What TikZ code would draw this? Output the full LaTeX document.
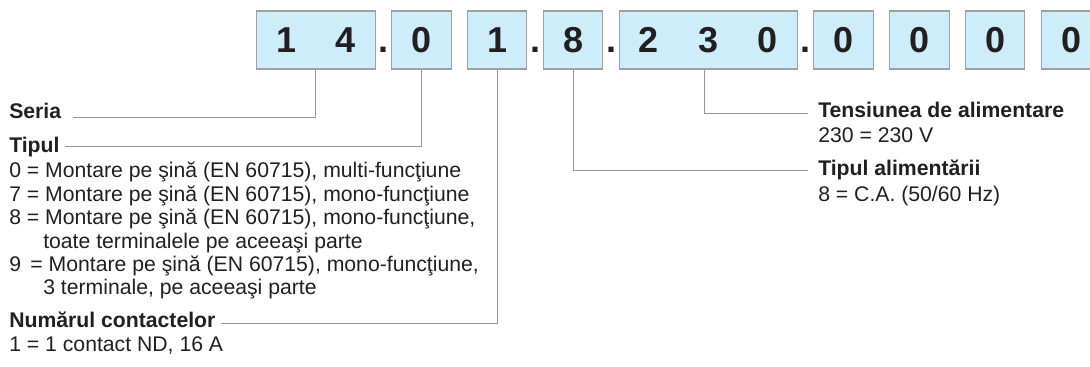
\documentclass[tikz,border=0pt]{standalone}
\usepackage{fontspec}
\setmainfont{Liberation Sans}
\usetikzlibrary{positioning, calc}
\definecolor{boxblue}{RGB}{205,237,250}
\definecolor{boxline}{RGB}{160,160,160}
\definecolor{ink}{RGB}{35,31,32}
\definecolor{leadgray}{RGB}{150,150,150}
\newcommand{\cell}[1]{\makebox[44.5pt]{#1}} % one digit place of the code
\tikzset{
x=0.75pt, y=-0.75pt, % one unit is one pixel of the sheet
node distance=11.6pt, % gap between two code boxes
codebox/.style={draw=boxline, fill=boxblue, line width=0.8pt, minimum height=43.5pt, inner sep=0pt, text=ink, font=\fontsize{27}{32}\selectfont\bfseries},
codedot/.style={anchor=base, inner sep=0pt, text=ink, font=\fontsize{27}{32}\selectfont\bfseries},
head/.style={anchor=base west, inner sep=0pt, text=ink, font=\fontsize{15.9}{19}\selectfont\bfseries},
item/.style={anchor=base west, inner sep=0pt, text=ink, font=\fontsize{15.9}{19}\selectfont},
leader/.style={draw=leadgray, line width=0.75pt},
}
\begin{document}
\begin{tikzpicture}
    \useasboundingbox (0,0) rectangle (1090,367);
    % code boxes
    \node[codebox, anchor=west] (b14) at (256,40) {\cell{1}\cell{4}};
    \node[codebox, right=of b14] (b0) {\cell{0}};
    \node[codebox, right=of b0] (b1) {\cell{1}};
    \node[codebox, right=of b1] (b8) {\cell{8}};
    \node[codebox, right=of b8] (b230) {\cell{2}\cell{3}\cell{0}};
    \node[codebox, right=of b230] (z1) {\cell{0}};
    \node[codebox, right=of z1] (z2) {\cell{0}};
    \node[codebox, right=of z2] (z3) {\cell{0}};
    \node[codebox, right=of z3] (z4) {\cell{0}};
    \node[codedot] (dot1) at ($(b14.base east)!.5!(b0.base west)$) {.};
    \node[codedot] (dot2) at ($(b1.base east)!.5!(b8.base west)$) {.};
    \node[codedot] (dot3) at ($(b8.base east)!.5!(b230.base west)$) {.};
    \node[codedot] (dot4) at ($(b230.base east)!.5!(z1.base west)$) {.};
    % left column
    \node[head] (seria) at (9,119) {Seria};
    \node[head] (tipul) at (9,153) {Tipul};
    \node[item] (t0) at (9,178) {0 = Montare pe şină (EN 60715), multi-funcţiune};
    \node[item] (t7) at (9,201.4) {7 = Montare pe şină (EN 60715), mono-funcţiune};
    \node[item] (t8) at (9,224.8) {8 = Montare pe şină (EN 60715), mono-funcţiune,};
    \node[item] (t8b) at (43,248.2) {toate terminalele pe aceeaşi parte};
    \node[item] (t9) at (9,271.6) {9\, = Montare pe şină (EN 60715), mono-funcţiune,};
    \node[item] (t9b) at (43,295) {3 terminale, pe aceeaşi parte};
    \node[head] (numar) at (9,327) {Numărul contactelor};
    \node[item] (c1) at (9,351) {1 = 1 contact ND, 16 A};
    % right column
    \node[head] (tens) at (818,118) {Tensiunea de alimentare};
    \node[item] (v230) at (818,143) {230 = 230 V};
    \node[head] (alim) at (818,176) {Tipul alimentării};
    \node[item] (ca) at (818,201.7) {8 = C.A. (50/60 Hz)};
    % leader lines
    \coordinate (seriaend) at (73,117.7);
    \coordinate (tipulend) at (65,146.7);
    \coordinate (numarend) at (221,323.5);
    \coordinate (alimend) at (808,170.7);
    \coordinate (tensend) at (808,113.3);
    \draw[leader] (b14.south) |- (seriaend);
    \draw[leader] (b0.south) |- (tipulend);
    \draw[leader] (b1.south) |- (numarend);
    \draw[leader] (b8.south) |- (alimend);
    \draw[leader] ([xshift=-3pt]b230.south) |- (tensend);
\end{tikzpicture}
\end{document}
